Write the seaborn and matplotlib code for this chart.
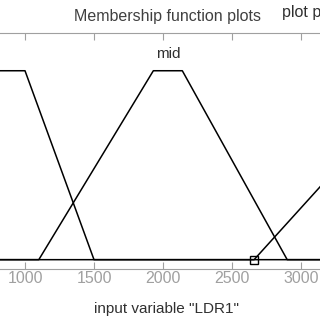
import matplotlib
matplotlib.use("Agg")
import matplotlib.pyplot as plt
import seaborn as sns
import pandas as pd

sns.set_theme(style="white")
plt.rcParams['font.family'] = ['Liberation Sans', 'DejaVu Sans']

# Membership function vertices (input variable "LDR1")
low_x = [800, 1000, 1500, 3200]
low_y = [1, 1, 0, 0]
mid_x = [800, 1100, 1930, 2140, 2900, 3200]
mid_y = [0, 0, 1, 1, 0, 0]
high_x = [800, 2660, 3900]
high_y = [0, 0, 1]
mf_names = ["low", "mid", "high"]
tick_values = [1000, 1500, 2000, 2500, 3000]
selected_point = (2660, 0)

frames = []
for name, xs, ys in zip(mf_names, [low_x, mid_x, high_x], [low_y, mid_y, high_y]):
    frames.append(pd.DataFrame({"x": xs, "y": ys, "mf": name, "order": range(len(xs))}))
df = pd.concat(frames, ignore_index=True)

fig = plt.figure(figsize=(3.2, 3.2), dpi=100)
ax = fig.add_axes([0.0, 0.159, 1.0, 0.738])

sns.lineplot(data=df, x="x", y="y", units="mf", estimator=None, sort=False,
             color="black", linewidth=1.1, ax=ax, legend=False)
ax.plot([selected_point[0]], [selected_point[1]], marker="s", markersize=6,
        markerfacecolor="none", markeredgecolor="black", markeredgewidth=1.0)

ax.set_xticks(tick_values)
ax.set_xticklabels([str(v) for v in tick_values])
ax.set_yticks([])
ax.set_xlim(818.8, 3137.7)
ax.set_ylim(-0.05, 1.2)
ax.tick_params(axis="x", direction="in", length=5, width=0.8, color="#a0a0a0",
               top=True, bottom=True, labelsize=11.5, labelcolor="#a0a0a0", pad=1.5)
for s in ["left", "right"]:
    ax.spines[s].set_visible(False)
for s in ["top", "bottom"]:
    ax.spines[s].set_color("#a0a0a0")
    ax.spines[s].set_linewidth(0.8)
ax.set_xlabel("")
ax.set_ylabel("")

ax.text(2036, 1.09, "mid", ha="center", va="center", fontsize=11, color="#303030")
fig.text(0.522, 0.95, "Membership function plots", ha="center", va="center",
         fontsize=11.5, color="#404040")
fig.text(0.881, 0.96, "plot p", ha="left", va="center", fontsize=11.5, color="#303030")
fig.text(0.52, 0.035, 'input variable "LDR1"', ha="center", va="center",
         fontsize=11, color="#303030")

fig.savefig("out.png", dpi=100)
